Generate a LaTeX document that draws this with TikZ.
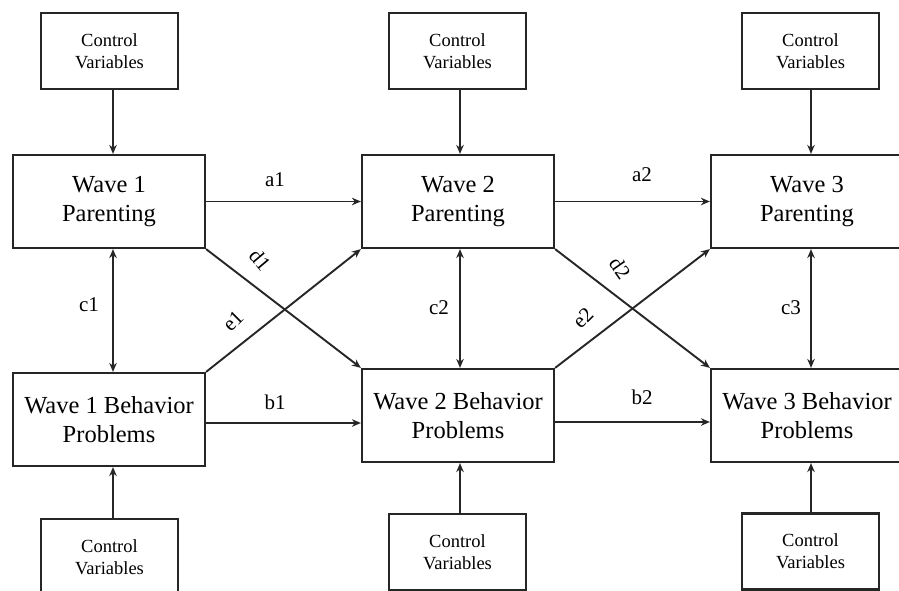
\documentclass[tikz,border=0pt]{standalone}
\usepackage{fontspec}
\setmainfont{Liberation Serif}
\usetikzlibrary{arrows.meta}
\begin{document}
\begin{tikzpicture}[x=1pt,y=-1pt,
  ctrl/.style={draw=black!85,line width=2.2pt,minimum width=137pt,minimum height=76pt,inner sep=0pt,align=center,font=\fontsize{18.5}{22}\selectfont},
  wave/.style={draw=black!85,line width=2.2pt,minimum width=192pt,minimum height=93pt,inner sep=0pt,align=center,font=\fontsize{24.5}{29.5}\selectfont},
  conn/.style={draw=black!85,line width=1.9pt,-{Stealth[length=9pt,width=7.5pt]}},
  biconn/.style={draw=black!85,line width=1.9pt,{Stealth[length=9pt,width=7.5pt]}-{Stealth[length=9pt,width=7.5pt]}},
  lbl/.style={font=\fontsize{21}{24}\selectfont,inner sep=0pt}]
\useasboundingbox (0,0) rectangle (899,591);
\fill[white] (0,0) rectangle (899,591);
% control boxes
\node[ctrl] (cT1) at (109.5,51) {Control\\Variables};
\node[ctrl] (cT2) at (457.5,51) {Control\\Variables};
\node[ctrl] (cT3) at (810.5,51) {Control\\Variables};
\node[ctrl] (cB1) at (109.5,557) {Control\\Variables};
\node[ctrl] (cB2) at (457.5,552) {Control\\Variables};
\node[ctrl] (cB3) at (810.5,551.5) {Control\\Variables};
% wave boxes
\node[wave] (P1) at (109,201.5) {Wave 1\\Parenting};
\node[wave] (P2) at (458,201.5) {Wave 2\\Parenting};
\node[wave] (P3) at (807,201.5) {Wave 3\\Parenting};
\node[wave] (B1) at (109,419.5) {Wave 1 Behavior\\Problems};
\node[wave] (B2) at (458,415.5) {Wave 2 Behavior\\Problems};
\node[wave] (B3) at (807,415.5) {Wave 3 Behavior\\Problems};
% x positions of vertical arrows
\coordinate (x1) at (113,0);
\coordinate (x2) at (460,0);
\coordinate (x3) at (811,0);
\coordinate (yb1) at (0,423);
\coordinate (yb2) at (0,422);
% control arrows
\draw[conn] (cT1.south -| x1) -- (P1.north -| x1);
\draw[conn] (cT2.south -| x2) -- (P2.north -| x2);
\draw[conn] (cT3.south -| x3) -- (P3.north -| x3);
\draw[conn] (cB1.north -| x1) -- (B1.south -| x1);
\draw[conn] (cB2.north -| x2) -- (B2.south -| x2);
\draw[conn] (cB3.north -| x3) -- (B3.south -| x3);
% horizontal paths
\draw[conn] (P1.east) -- (P2.west);
\draw[conn] (P2.east) -- (P3.west);
\draw[conn] (B1.east |- yb1) -- (B2.west |- yb1);
\draw[conn] (B2.east |- yb2) -- (B3.west |- yb2);
% vertical correlations
\draw[biconn] (P1.south -| x1) -- (B1.north -| x1);
\draw[biconn] (P2.south -| x2) -- (B2.north -| x2);
\draw[biconn] (P3.south -| x3) -- (B3.north -| x3);
% cross paths
\draw[conn] (P1.south east) -- (B2.north west);
\draw[conn] (B1.north east) -- (P2.south west);
\draw[conn] (P2.south east) -- (B3.north west);
\draw[conn] (B2.north east) -- (P3.south west);
% labels
\node[lbl] (la1) at (275,180) {a1};
\node[lbl] (la2) at (642,175) {a2};
\node[lbl] (lb1) at (275,402) {b1};
\node[lbl] (lb2) at (642,397) {b2};
\node[lbl] (lc1) at (89,305) {c1};
\node[lbl] (lc2) at (439,308) {c2};
\node[lbl] (lc3) at (791,308) {c3};
\node[lbl,rotate=-50] (ld1) at (260,260) {d1};
\node[lbl,rotate=-55] (ld2) at (620,268) {d2};
\node[lbl,rotate=45] (le1) at (233,321) {e1};
\node[lbl,rotate=45] (le2) at (583,318) {e2};
\end{tikzpicture}
\end{document}
